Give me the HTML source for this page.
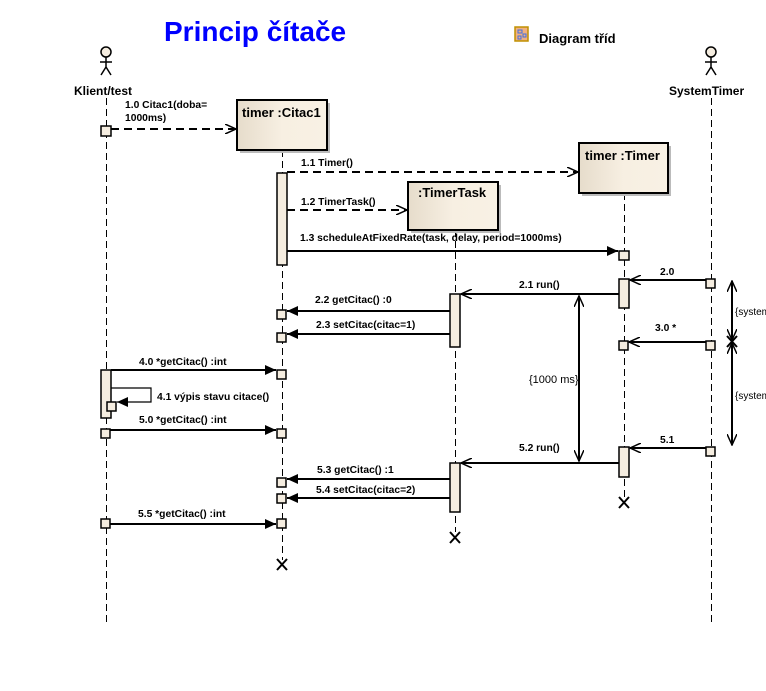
<!DOCTYPE html>
<html><head><meta charset="utf-8"><style>
html,body{margin:0;padding:0;background:#fff;}
svg{display:block;}
text{font-family:"Liberation Sans",sans-serif;fill:#000;}
.b{font-weight:bold;font-size:10.3px;}
</style></head><body>
<svg width="766" height="691" viewBox="0 0 766 691" xmlns="http://www.w3.org/2000/svg">
<defs>
<linearGradient id="g" x1="0" x2="1" y1="0" y2="0"><stop offset="0" stop-color="#e6dccb"/><stop offset="0.5" stop-color="#f7efe2"/><stop offset="1" stop-color="#f8f1e4"/></linearGradient>
<marker id="open" markerWidth="12" markerHeight="10" refX="11" refY="5" orient="auto-start-reverse" markerUnits="userSpaceOnUse"><path d="M0,0 L11,5 L0,10" fill="none" stroke="#000" stroke-width="1.5"/></marker>
<marker id="fill" markerWidth="12" markerHeight="10" refX="11" refY="5" orient="auto" markerUnits="userSpaceOnUse"><path d="M0,0 L11,5 L0,10 z" fill="#000"/></marker>
</defs>
<text x="164" y="41" font-size="28" font-weight="bold" style="fill:#0000ff">Princip čítače</text>
<rect x="515" y="27" width="13" height="14" fill="#f0b080" stroke="#c09000" stroke-width="1.5"/>
<path d="M518,30h4v3h-4zM523,34h3v3h-3zM518,36h3v3h-3z" fill="none" stroke="#4070e0" stroke-width="1"/>
<text x="539" y="43" font-size="13" font-weight="bold">Diagram tříd</text>
<g stroke="#000" stroke-width="1.5" fill="none">
<circle cx="106" cy="52" r="5" fill="#f5ede0"/><path d="M106,57v10M100,62h12M106,67l-5,8M106,67l5,8"/>
<circle cx="711" cy="52" r="5" fill="#f5ede0"/><path d="M711,57v10M705,62h12M711,67l-5,8M711,67l5,8"/>
</g>
<text x="74" y="95" font-size="12" font-weight="bold">Klient/test</text>
<text x="669" y="95" font-size="12" font-weight="bold">SystemTimer</text>
<g stroke="#000" stroke-width="1" stroke-dasharray="7,4" fill="none">
<path d="M106.5,98V622M711.5,98V622M282.5,150V560M624.5,193V497M455.5,230V532"/>
</g>
<g stroke="#000" stroke-width="2" fill="none">
<path d="M277,559l10,11M287,559l-10,11M619,497l10,11M629,497l-10,11M450,532l10,11M460,532l-10,11M727,336l10,11M737,336l-10,11"/>
</g>
<rect x="240" y="103" width="90" height="50" fill="#bbb"/>
<rect x="237" y="100" width="90" height="50" fill="url(#g)" stroke="#000" stroke-width="2"/>
<text x="242" y="117" font-size="13" font-weight="bold">timer :Citac1</text>
<rect x="582" y="146" width="89" height="50" fill="#bbb"/>
<rect x="579" y="143" width="89" height="50" fill="url(#g)" stroke="#000" stroke-width="2"/>
<text x="585" y="160" font-size="13" font-weight="bold">timer :Timer</text>
<rect x="411" y="185" width="90" height="48" fill="#bbb"/>
<rect x="408" y="182" width="90" height="48" fill="url(#g)" stroke="#000" stroke-width="2"/>
<text x="418" y="197" font-size="13" font-weight="bold">:TimerTask</text>
<g fill="#f5ede0" stroke="#000" stroke-width="1.5">
<rect x="277" y="173" width="10" height="92"/>
<rect x="619" y="279" width="10" height="29"/>
<rect x="619" y="447" width="10" height="30"/>
<rect x="450" y="294" width="10" height="53"/>
<rect x="450" y="463" width="10" height="49"/>
<rect x="101" y="370" width="10" height="48"/>
<rect x="101" y="126" width="10" height="10"/>
<rect x="619" y="251" width="10" height="9"/>
<rect x="706" y="279" width="9" height="9"/>
<rect x="706" y="341" width="9" height="9"/>
<rect x="619" y="341" width="9" height="9"/>
<rect x="706" y="447" width="9" height="9"/>
<rect x="277" y="310" width="9" height="9"/>
<rect x="277" y="333" width="9" height="9"/>
<rect x="277" y="370" width="9" height="9"/>
<rect x="107" y="402" width="9" height="9"/>
<rect x="101" y="429" width="9" height="9"/>
<rect x="277" y="429" width="9" height="9"/>
<rect x="277" y="478" width="9" height="9"/>
<rect x="277" y="494" width="9" height="9"/>
<rect x="101" y="519" width="9" height="9"/>
<rect x="277" y="519" width="9" height="9"/>
</g>
<g stroke="#000" stroke-width="2" fill="none">
<path d="M111,129H236" stroke-dasharray="8,5" marker-end="url(#open)"/>
<path d="M287,172H578" stroke-dasharray="8,5" marker-end="url(#open)"/>
<path d="M287,210H407" stroke-dasharray="8,5" marker-end="url(#open)"/>
<path d="M287,251H618" marker-end="url(#fill)"/>
<path d="M706,280H630" marker-end="url(#open)"/>
<path d="M619,294H461" marker-end="url(#open)"/>
<path d="M450,311H287" marker-end="url(#fill)"/>
<path d="M450,334H287" marker-end="url(#fill)"/>
<path d="M706,342H629" marker-end="url(#open)"/>
<path d="M111,370H276" marker-end="url(#fill)"/>
<path d="M111,388H151V402H117" stroke-width="1.2" marker-end="url(#fill)"/>
<path d="M110,430H276" marker-end="url(#fill)"/>
<path d="M706,448H630" marker-end="url(#open)"/>
<path d="M619,463H461" marker-end="url(#open)"/>
<path d="M450,479H287" marker-end="url(#fill)"/>
<path d="M450,498H287" marker-end="url(#fill)"/>
<path d="M110,524H276" marker-end="url(#fill)"/>
<path d="M579,296V461" marker-start="url(#open)" marker-end="url(#open)"/>
<path d="M732,281V340" marker-start="url(#open)" marker-end="url(#open)"/>
<path d="M732,343V445" marker-start="url(#open)" marker-end="url(#open)"/>
</g>
<text class="b" x="125" y="108">1.0 Citac1(doba=</text>
<text class="b" x="125" y="121">1000ms)</text>
<text class="b" x="301" y="166">1.1 Timer()</text>
<text class="b" x="301" y="205">1.2 TimerTask()</text>
<text class="b" x="300" y="241">1.3 scheduleAtFixedRate(task, delay, period=1000ms)</text>
<text class="b" x="660" y="275">2.0</text>
<text class="b" x="519" y="288">2.1 run()</text>
<text class="b" x="315" y="303">2.2 getCitac() :0</text>
<text class="b" x="316" y="328">2.3 setCitac(citac=1)</text>
<text class="b" x="655" y="331">3.0 *</text>
<text class="b" x="139" y="365">4.0 *getCitac() :int</text>
<text class="b" x="157" y="400">4.1 výpis stavu citace()</text>
<text class="b" x="139" y="423">5.0 *getCitac() :int</text>
<text class="b" x="660" y="443">5.1</text>
<text class="b" x="519" y="451">5.2 run()</text>
<text class="b" x="317" y="473">5.3 getCitac() :1</text>
<text class="b" x="316" y="493">5.4 setCitac(citac=2)</text>
<text class="b" x="138" y="517">5.5 *getCitac() :int</text>
<text x="529" y="383" font-size="11">{1000 ms}</text>
<text x="735" y="315" font-size="10">{system</text>
<text x="735" y="399" font-size="10">{system</text>
</svg>
</body></html>
